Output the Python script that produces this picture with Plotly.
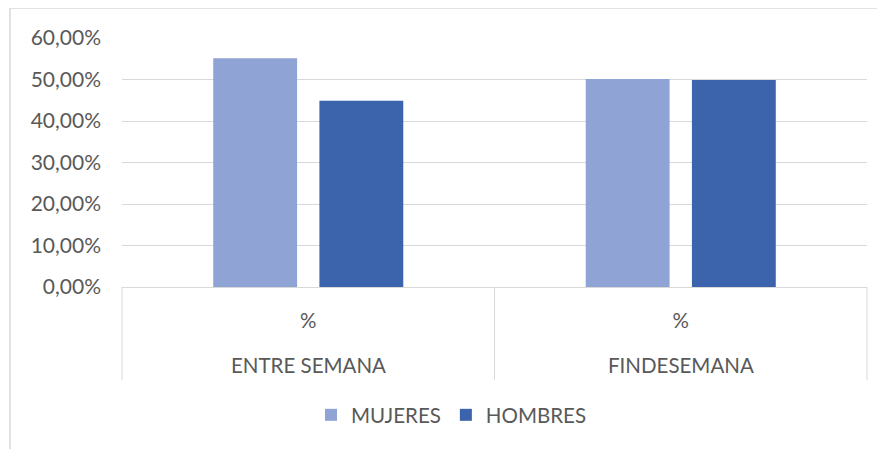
import plotly.graph_objects as go

grupos = ["ENTRE SEMANA", "FINDESEMANA"]
subcat = ["%", "%"]
mujeres = [0.551, 0.501]
hombres = [0.449, 0.499]
yticks = [0, 0.1, 0.2, 0.3, 0.4, 0.5, 0.6]
yticktext = ["0,00%", "10,00%", "20,00%", "30,00%", "40,00%", "50,00%", "60,00%"]

FONT = "Lato"
TXT = "#595959"
GRID = "#D9D9D9"

# figure is offset by the page's 8px body margin
W, H = 877, 441
L, R, T, B = 114, 18, 30, 162
PW = W - L - R
PH = H - T - B

fig = go.Figure()
fig.add_trace(go.Bar(name="MUJERES", x=grupos, y=mujeres, marker_color="#8FA4D5",
                     marker_line_width=0))
fig.add_trace(go.Bar(name="HOMBRES", x=grupos, y=hombres, marker_color="#3C64AC",
                     marker_line_width=0))

# chart-area border: top and left edges visible, right/bottom cut off
top_y = (H - B) / PH
left_x = (2 - L) / PW
shapes = [
    dict(type="line", xref="paper", yref="paper", x0=left_x, x1=(W + 10 - L) / PW,
         y0=top_y, y1=top_y, line=dict(color=GRID, width=1.5), layer="below"),
    dict(type="line", xref="paper", yref="paper", x0=left_x, x1=left_x,
         y0=top_y, y1=-(H + 10 - (H - B)) / PH, line=dict(color=GRID, width=1.5), layer="below"),
]
for xd in [0, 0.5, 1]:
    shapes.append(dict(type="line", xref="paper", yref="paper", x0=xd, x1=xd,
                       y0=0, y1=-93 / PH, line=dict(color=GRID, width=1)))

annotations = [dict(text=g, x=g, xref="x", y=-78 / PH, yref="paper", showarrow=False,
                    xanchor="center", yanchor="middle",
                    font=dict(family=FONT, size=20.5, color=TXT)) for g in grupos]

fig.update_layout(
    width=W, height=H,
    margin=dict(l=L, r=R, t=T, b=B),
    plot_bgcolor="white", paper_bgcolor="white",
    barmode="group", bargap=0.43, bargroupgap=0.21,
    font=dict(family=FONT, size=20.5, color=TXT),
    showlegend=True,
    legend=dict(orientation="h", x=(303 - L) / PW, xanchor="left", y=-128 / PH, yanchor="middle",
                font=dict(size=20.5, color=TXT), itemwidth=30, tracegroupgap=0),
    xaxis=dict(type="category", showline=True, linecolor=GRID, linewidth=1,
               tickvals=grupos, ticktext=subcat, ticks="", ticklabelstandoff=15,
               tickfont=dict(size=20.5, color=TXT)),
    yaxis=dict(range=[0, 0.6], tickvals=yticks, ticktext=yticktext, showgrid=True,
               gridcolor=GRID, gridwidth=1, zeroline=False, showline=False,
               ticklabelstandoff=20, tickfont=dict(size=21, color=TXT)),
    shapes=shapes,
    annotations=annotations,
)

fig.write_html("out.html")
